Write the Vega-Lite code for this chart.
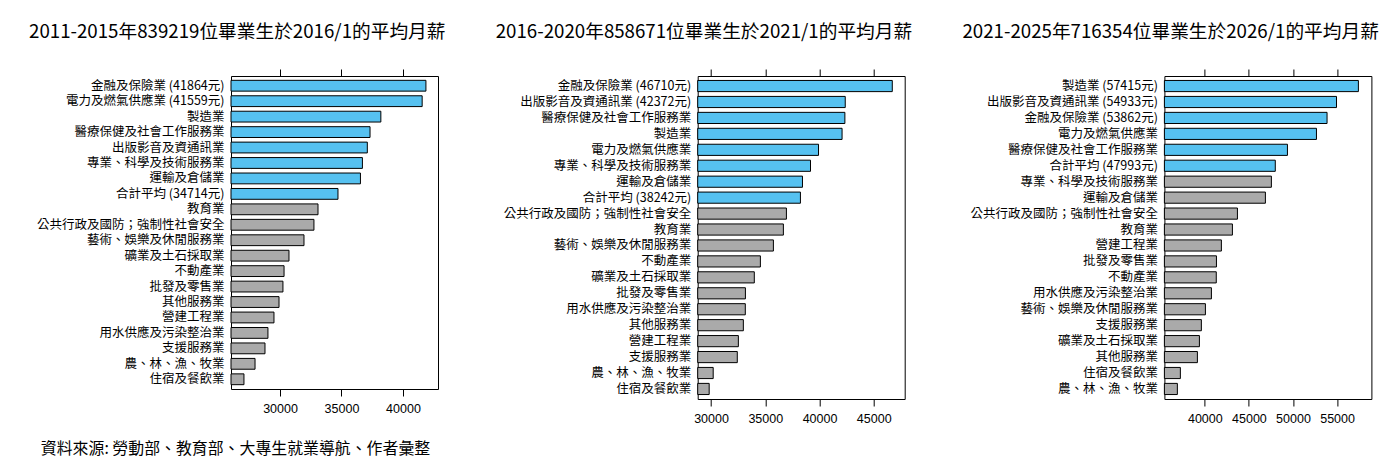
{
  "$schema": "https://vega.github.io/schema/vega-lite/v6.json",
  "padding": {"left": 28, "top": 22, "right": 0, "bottom": 0},
  "background": "white",
  "spacing": 259.7,
  "bounds": "flush",
  "config": {
    "view": {"stroke": "black", "strokeWidth": 1},
    "title": {"font": "Noto Sans CJK TC", "fontSize": 18.7, "fontWeight": "normal", "color": "black", "frame": "bounds", "anchor": "middle", "offset": 27},
    "axisY": {"domain": false, "ticks": false, "grid": false, "labelFont": "Noto Sans CJK TC", "labelFontSize": 12.5, "labelColor": "black", "labelPadding": 7, "labelLimit": 0, "title": null},
    "axisX": {"domain": false, "grid": false, "tickColor": "black", "tickSize": 7, "labelFont": "Liberation Sans", "labelFontSize": 12.5, "labelColor": "black", "labelPadding": 6, "format": "d", "labelFlush": false, "labelOverlap": false},
    "scale": {"bandPaddingInner": 0.3, "bandPaddingOuter": 0.28}
  },
  "datasets": {
    "salary": [
      {"panel": 1, "label": "金融及保險業 (41864元)", "value": 41864, "hl": "yes"},
      {"panel": 1, "label": "電力及燃氣供應業 (41559元)", "value": 41559, "hl": "yes"},
      {"panel": 1, "label": "製造業", "value": 38200, "hl": "yes"},
      {"panel": 1, "label": "醫療保健及社會工作服務業", "value": 37320, "hl": "yes"},
      {"panel": 1, "label": "出版影音及資通訊業", "value": 37100, "hl": "yes"},
      {"panel": 1, "label": "專業、科學及技術服務業", "value": 36700, "hl": "yes"},
      {"panel": 1, "label": "運輸及倉儲業", "value": 36540, "hl": "yes"},
      {"panel": 1, "label": "合計平均 (34714元)", "value": 34714, "hl": "yes"},
      {"panel": 1, "label": "教育業", "value": 33090, "hl": "no"},
      {"panel": 1, "label": "公共行政及國防；強制性社會安全", "value": 32760, "hl": "no"},
      {"panel": 1, "label": "藝術、娛樂及休閒服務業", "value": 31950, "hl": "no"},
      {"panel": 1, "label": "礦業及土石採取業", "value": 30730, "hl": "no"},
      {"panel": 1, "label": "不動產業", "value": 30330, "hl": "no"},
      {"panel": 1, "label": "批發及零售業", "value": 30240, "hl": "no"},
      {"panel": 1, "label": "其他服務業", "value": 29920, "hl": "no"},
      {"panel": 1, "label": "營建工程業", "value": 29510, "hl": "no"},
      {"panel": 1, "label": "用水供應及污染整治業", "value": 29020, "hl": "no"},
      {"panel": 1, "label": "支援服務業", "value": 28780, "hl": "no"},
      {"panel": 1, "label": "農、林、漁、牧業", "value": 27970, "hl": "no"},
      {"panel": 1, "label": "住宿及餐飲業", "value": 27070, "hl": "no"},
      {"panel": 2, "label": "金融及保險業 (46710元)", "value": 46710, "hl": "yes"},
      {"panel": 2, "label": "出版影音及資通訊業 (42372元)", "value": 42372, "hl": "yes"},
      {"panel": 2, "label": "醫療保健及社會工作服務業", "value": 42340, "hl": "yes"},
      {"panel": 2, "label": "製造業", "value": 42080, "hl": "yes"},
      {"panel": 2, "label": "電力及燃氣供應業", "value": 39910, "hl": "yes"},
      {"panel": 2, "label": "專業、科學及技術服務業", "value": 39170, "hl": "yes"},
      {"panel": 2, "label": "運輸及倉儲業", "value": 38430, "hl": "yes"},
      {"panel": 2, "label": "合計平均 (38242元)", "value": 38242, "hl": "yes"},
      {"panel": 2, "label": "公共行政及國防；強制性社會安全", "value": 36950, "hl": "no"},
      {"panel": 2, "label": "教育業", "value": 36670, "hl": "no"},
      {"panel": 2, "label": "藝術、娛樂及休閒服務業", "value": 35750, "hl": "no"},
      {"panel": 2, "label": "不動產業", "value": 34550, "hl": "no"},
      {"panel": 2, "label": "礦業及土石採取業", "value": 33990, "hl": "no"},
      {"panel": 2, "label": "批發及零售業", "value": 33170, "hl": "no"},
      {"panel": 2, "label": "用水供應及污染整治業", "value": 33160, "hl": "no"},
      {"panel": 2, "label": "其他服務業", "value": 32980, "hl": "no"},
      {"panel": 2, "label": "營建工程業", "value": 32520, "hl": "no"},
      {"panel": 2, "label": "支援服務業", "value": 32420, "hl": "no"},
      {"panel": 2, "label": "農、林、漁、牧業", "value": 30200, "hl": "no"},
      {"panel": 2, "label": "住宿及餐飲業", "value": 29830, "hl": "no"},
      {"panel": 3, "label": "製造業 (57415元)", "value": 57415, "hl": "yes"},
      {"panel": 3, "label": "出版影音及資通訊業 (54933元)", "value": 54933, "hl": "yes"},
      {"panel": 3, "label": "金融及保險業 (53862元)", "value": 53862, "hl": "yes"},
      {"panel": 3, "label": "電力及燃氣供應業", "value": 52660, "hl": "yes"},
      {"panel": 3, "label": "醫療保健及社會工作服務業", "value": 49370, "hl": "yes"},
      {"panel": 3, "label": "合計平均 (47993元)", "value": 47993, "hl": "yes"},
      {"panel": 3, "label": "專業、科學及技術服務業", "value": 47550, "hl": "no"},
      {"panel": 3, "label": "運輸及倉儲業", "value": 46870, "hl": "no"},
      {"panel": 3, "label": "公共行政及國防；強制性社會安全", "value": 43700, "hl": "no"},
      {"panel": 3, "label": "教育業", "value": 43130, "hl": "no"},
      {"panel": 3, "label": "營建工程業", "value": 41880, "hl": "no"},
      {"panel": 3, "label": "批發及零售業", "value": 41320, "hl": "no"},
      {"panel": 3, "label": "不動產業", "value": 41300, "hl": "no"},
      {"panel": 3, "label": "用水供應及污染整治業", "value": 40750, "hl": "no"},
      {"panel": 3, "label": "藝術、娛樂及休閒服務業", "value": 40070, "hl": "no"},
      {"panel": 3, "label": "支援服務業", "value": 39610, "hl": "no"},
      {"panel": 3, "label": "礦業及土石採取業", "value": 39390, "hl": "no"},
      {"panel": 3, "label": "其他服務業", "value": 39160, "hl": "no"},
      {"panel": 3, "label": "住宿及餐飲業", "value": 37230, "hl": "no"},
      {"panel": 3, "label": "農、林、漁、牧業", "value": 36890, "hl": "no"}
    ]
  },
  "hconcat": [
    {
      "title": "2011-2015年839219位畢業生於2016/1的平均月薪",
      "width": 207,
      "height": 313,
      "data": {"name": "salary"},
      "transform": [{"filter": "datum.panel == 1"}],
      "resolve": {"axis": {"x": "independent"}},
      "layer": [
        {
          "mark": {"type": "bar", "stroke": "black", "strokeWidth": 1},
          "encoding": {
            "y": {"field": "label", "type": "nominal", "sort": "-x"},
            "x": {"field": "value", "type": "quantitative", "scale": {"domain": [26016, 42846], "zero": false, "nice": false},
                  "axis": {"orient": "bottom", "values": [30000, 35000, 40000],
                           "title": "資料來源: 勞動部、教育部、大專生就業導航、作者彙整",
                           "titleFont": "Noto Sans CJK TC", "titleFontSize": 15.9, "titleFontWeight": "normal", "titleColor": "black",
                           "titleX": 4, "titleY": 64, "titleAlign": "center", "titleBaseline": "alphabetic"}},
            "x2": {"datum": 26016},
            "color": {"field": "hl", "type": "nominal", "scale": {"domain": ["yes", "no"], "range": ["#56C1F0", "#AAAAAA"]}, "legend": null}
          }
        },
        {
          "mark": {"type": "bar", "opacity": 0},
          "encoding": {
            "y": {"field": "label", "type": "nominal", "sort": "-x"},
            "x": {"field": "value", "type": "quantitative", "axis": {"orient": "top", "values": [30000, 35000, 40000], "labels": false, "title": null}},
            "x2": {"datum": 26016}
          }
        }
      ]
    },
    {
      "title": "2016-2020年858671位畢業生於2021/1的平均月薪",
      "width": 207,
      "height": 323,
      "data": {"name": "salary"},
      "transform": [{"filter": "datum.panel == 2"}],
      "resolve": {"axis": {"x": "independent"}},
      "layer": [
        {
          "mark": {"type": "bar", "stroke": "black", "strokeWidth": 1},
          "encoding": {
            "y": {"field": "label", "type": "nominal", "sort": "-x"},
            "x": {"field": "value", "type": "quantitative", "scale": {"domain": [28771, 47854], "zero": false, "nice": false},
                  "axis": {"orient": "bottom", "values": [30000, 35000, 40000, 45000], "title": null}},
            "x2": {"datum": 28771},
            "color": {"field": "hl", "type": "nominal", "scale": {"domain": ["yes", "no"], "range": ["#56C1F0", "#AAAAAA"]}, "legend": null}
          }
        },
        {
          "mark": {"type": "bar", "opacity": 0},
          "encoding": {
            "y": {"field": "label", "type": "nominal", "sort": "-x"},
            "x": {"field": "value", "type": "quantitative", "axis": {"orient": "top", "values": [30000, 35000, 40000, 45000], "labels": false, "title": null}},
            "x2": {"datum": 28771}
          }
        }
      ]
    },
    {
      "title": "2021-2025年716354位畢業生於2026/1的平均月薪",
      "width": 207,
      "height": 323,
      "data": {"name": "salary"},
      "transform": [{"filter": "datum.panel == 3"}],
      "resolve": {"axis": {"x": "independent"}},
      "layer": [
        {
          "mark": {"type": "bar", "stroke": "black", "strokeWidth": 1},
          "encoding": {
            "y": {"field": "label", "type": "nominal", "sort": "-x"},
            "x": {"field": "value", "type": "quantitative", "scale": {"domain": [35419, 58890], "zero": false, "nice": false},
                  "axis": {"orient": "bottom", "values": [40000, 45000, 50000, 55000], "title": null}},
            "x2": {"datum": 35419},
            "color": {"field": "hl", "type": "nominal", "scale": {"domain": ["yes", "no"], "range": ["#56C1F0", "#AAAAAA"]}, "legend": null}
          }
        },
        {
          "mark": {"type": "bar", "opacity": 0},
          "encoding": {
            "y": {"field": "label", "type": "nominal", "sort": "-x"},
            "x": {"field": "value", "type": "quantitative", "axis": {"orient": "top", "values": [40000, 45000, 50000, 55000], "labels": false, "title": null}},
            "x2": {"datum": 35419}
          }
        }
      ]
    }
  ]
}
